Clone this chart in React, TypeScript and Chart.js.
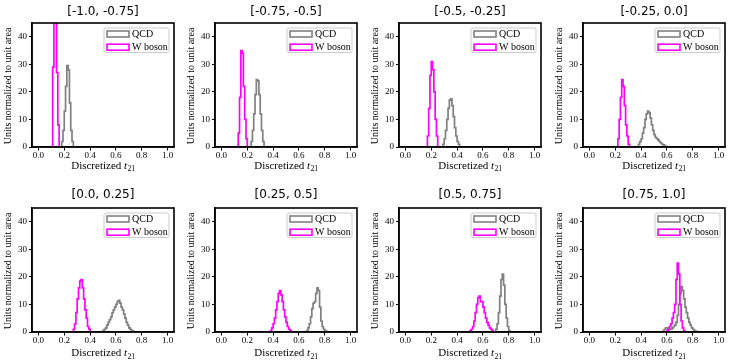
import React, { useEffect, useRef } from 'react';
import { Chart, registerables } from 'chart.js';

Chart.register(...registerables);

// ---------------- data ----------------
const panelTitles = [
  '[-1.0, -0.75]', '[-0.75, -0.5]', '[-0.5, -0.25]', '[-0.25, 0.0]',
  '[0.0, 0.25]', '[0.25, 0.5]', '[0.5, 0.75]', '[0.75, 1.0]',
];
const seriesNames = ['QCD', 'W boson'];
const xTicks = [0.0, 0.2, 0.4, 0.6, 0.8, 1.0];
const yTicks = [0, 10, 20, 30, 40];
const binWidth = 0.01;

// first bin edge of each histogram (per panel)
const qcdStarts = [0.18, 0.23, 0.29, 0.38, 0.50, 0.66, 0.70, 0.57];
const wStarts = [0.11, 0.13, 0.17, 0.22, 0.27, 0.38, 0.50, 0.60];

// bin heights (density)
const qcd1 = [2, 6, 13, 22, 29.5, 28, 16, 6, 2];
const qcd2 = [2, 6, 12, 19, 24.5, 24, 19, 12, 6, 2];
const qcd3 = [1, 3, 6, 10, 14, 17, 17.5, 15, 11, 7, 4, 2, 1];
const qcd4 = [1, 2, 3, 5, 7, 10, 12, 13, 12.5, 10.5, 8, 6, 4.5, 3.5, 3, 2.5, 2, 1.5, 1, 0.8, 0.5];
const qcd5 = [0.5, 1, 1.5, 2.5, 3.5, 4.5, 5.5, 7, 8, 9, 10, 11, 11.5, 10.5, 9, 8, 6.5, 5, 3.5, 2.5, 1.5, 1, 0.5, 0.3];
const qcd6 = [0.5, 1.5, 3, 5.5, 8.5, 10.5, 11, 14, 16, 15, 9, 4, 2, 1, 0.5, 0.2];
const qcd7 = [1, 3, 7, 13, 19, 21, 17, 10, 5, 2, 0.5];
const qcd8 = [0.5, 1, 1.5, 1.5, 1, 1, 1, 1.5, 2, 2.5, 3.5, 6, 10, 14, 16.5, 15, 12, 9, 7, 5, 3.5, 2.5, 1.5, 1, 0.5, 0.3];

const w1 = [29, 50, 50, 27, 8];
const w2 = [5, 18, 35, 34, 22, 10, 3];
const w3 = [4, 14, 26, 31, 28, 20, 10, 4];
const w4 = [3, 10, 18, 24.5, 22, 15, 8, 4, 1];
const w5 = [1, 3, 7, 12, 16, 18.5, 19, 16, 12, 8, 5, 2, 1];
const w6 = [0.5, 1.5, 3, 5, 8, 11, 14, 15, 13.5, 11, 8, 5.5, 3.5, 2, 1, 0.5];
const w7 = [0.5, 1, 2, 4, 7, 10, 12.5, 13, 11, 11, 9, 7, 5, 3.5, 2.5, 1.5, 1, 0.5];
const w8 = [0.5, 1, 2, 3, 5, 7, 10, 19, 25, 21, 10, 4, 1.5, 0.5];

const qcdCounts = [qcd1, qcd2, qcd3, qcd4, qcd5, qcd6, qcd7, qcd8];
const wCounts = [w1, w2, w3, w4, w5, w6, w7, w8];

// ---------------- styling / layout ----------------
const QCD_COLOR = '#808080';
const W_COLOR = '#ff00ff';
const PLOT_W = 142;
const PLOT_H = 124;
const AXIS_W = 32;
const TOP_PAD = 23;
const RIGHT_PAD = 6;
const CANVAS_W = AXIS_W + PLOT_W + RIGHT_PAD;
const colLefts = [32, 215, 399, 583];
const rowTops = [23, 208];
const rowHeights = [181, 178];
const titleOffsets = [11.5, 13];
const xlabelBaselines = [21.5, 24];
const SERIF = '"Liberation Serif", "Times New Roman", serif';

function histPoints(start: number, counts: number[]) {
  const pts = [{ x: start, y: 0 }];
  counts.forEach((c, i) => pts.push({ x: +(start + i * binWidth).toFixed(4), y: c }));
  pts.push({ x: +(start + counts.length * binWidth).toFixed(4), y: 0 });
  return pts;
}

function Panel({ idx }: { idx: number }) {
  const ref = useRef<HTMLCanvasElement>(null);
  const row = Math.floor(idx / 4);
  const col = idx % 4;
  const left = colLefts[col] - AXIS_W;
  const top = rowTops[row] - TOP_PAD;
  const height = rowHeights[row];

  useEffect(() => {
    const title = panelTitles[idx];
    const decor = {
      id: 'decor',
      afterDraw(chart: any) {
        const ctx = chart.ctx as CanvasRenderingContext2D;
        const a = chart.chartArea;
        const cx = (a.left + a.right) / 2;
        ctx.save();
        // frame
        ctx.strokeStyle = '#000';
        ctx.lineWidth = 1.6;
        ctx.strokeRect(a.left, a.top, a.right - a.left, a.bottom - a.top);
        // title
        ctx.fillStyle = '#000';
        ctx.font = '12px "DejaVu Sans"';
        ctx.textAlign = 'center';
        ctx.textBaseline = 'middle';
        ctx.fillText(title, cx, a.top - titleOffsets[row]);
        // y label
        ctx.save();
        ctx.translate(a.left - 23.5, (a.top + a.bottom) / 2 + 1);
        ctx.rotate(-Math.PI / 2);
        ctx.font = '10px ' + SERIF;
        ctx.fillText('Units normalized to unit area', 0, 0);
        ctx.restore();
        // x label: Discretized t_21
        const mainFont = '11px ' + SERIF;
        const itFont = 'italic 11px ' + SERIF;
        const subFont = '7.7px ' + SERIF;
        const p1 = 'Discretized ';
        const p2 = 't';
        const p3 = '21';
        ctx.font = mainFont; const w1m = ctx.measureText(p1).width;
        ctx.font = itFont; const w2m = ctx.measureText(p2).width;
        ctx.font = subFont; const w3m = ctx.measureText(p3).width;
        let x0 = cx - (w1m + w2m + w3m) / 2;
        const base = a.bottom + xlabelBaselines[row];
        ctx.textAlign = 'left';
        ctx.textBaseline = 'alphabetic';
        ctx.font = mainFont; ctx.fillText(p1, x0, base); x0 += w1m;
        ctx.font = itFont; ctx.fillText(p2, x0, base); x0 += w2m;
        ctx.font = subFont; ctx.fillText(p3, x0 + 0.3, base + 2.5);
        // legend
        const lw = 65, lh = 24.5;
        const lx = a.right - 5 - lw;
        const ly = a.top + 5;
        ctx.beginPath();
        (ctx as any).roundRect(lx, ly, lw, lh, 2);
        ctx.fillStyle = 'rgba(255,255,255,0.8)';
        ctx.fill();
        ctx.strokeStyle = '#cccccc';
        ctx.lineWidth = 1;
        ctx.stroke();
        const rows = [
          { name: seriesNames[0], color: QCD_COLOR, cy: ly + 6 },
          { name: seriesNames[1], color: W_COLOR, cy: ly + 19.2 },
        ];
        rows.forEach((r) => {
          ctx.strokeStyle = r.color;
          ctx.lineWidth = 1.6;
          ctx.strokeRect(lx + 3, r.cy - 3, 22, 6);
          ctx.fillStyle = '#000';
          ctx.font = '10px ' + SERIF;
          ctx.textAlign = 'left';
          ctx.textBaseline = 'middle';
          ctx.fillText(r.name, lx + 28, r.cy + 0.5);
        });
        ctx.restore();
      },
    };

    const chart = new Chart(ref.current as HTMLCanvasElement, {
      type: 'line',
      data: {
        datasets: [
          {
            label: seriesNames[1],
            data: histPoints(wStarts[idx], wCounts[idx]),
            borderColor: W_COLOR,
            borderWidth: 1.7,
            stepped: 'before',
            pointRadius: 0,
            fill: false,
            order: 0,
          },
          {
            label: seriesNames[0],
            data: histPoints(qcdStarts[idx], qcdCounts[idx]),
            borderColor: QCD_COLOR,
            borderWidth: 1.7,
            stepped: 'before',
            pointRadius: 0,
            fill: false,
            order: 1,
          },
        ],
      },
      options: {
        animation: false,
        responsive: false,
        events: [],
        layout: { padding: { left: 0, top: TOP_PAD, right: RIGHT_PAD, bottom: 0 } },
        plugins: { legend: { display: false }, tooltip: { enabled: false }, title: { display: false } },
        scales: {
          x: {
            type: 'linear',
            min: -0.05,
            max: 1.05,
            afterBuildTicks: (s: any) => { s.ticks = xTicks.map((v) => ({ value: v })); },
            afterFit: (s: any) => { s.height = height - TOP_PAD - PLOT_H; },
            ticks: {
              autoSkip: false,
              maxRotation: 0,
              padding: 0,
              color: '#000',
              font: { family: SERIF, size: 9 },
              callback: (v: any) => Number(v).toFixed(1),
            },
            grid: { drawOnChartArea: false, drawTicks: true, tickLength: 3.5, tickColor: '#000', tickWidth: 1 },
            border: { display: true, color: '#000', width: 1.5 },
          },
          y: {
            type: 'linear',
            min: 0,
            max: 45,
            afterBuildTicks: (s: any) => { s.ticks = yTicks.map((v) => ({ value: v })); },
            afterFit: (s: any) => { s.width = AXIS_W; },
            ticks: {
              autoSkip: false,
              padding: 2,
              color: '#000',
              font: { family: SERIF, size: 9 },
              callback: (v: any) => String(v),
            },
            grid: { drawOnChartArea: false, drawTicks: true, tickLength: 3, tickColor: '#000', tickWidth: 1 },
            border: { display: true, color: '#000', width: 1.5 },
          },
        },
      },
      plugins: [decor],
    } as any);
    return () => chart.destroy();
  }, []);

  return (
    <canvas
      ref={ref}
      width={CANVAS_W}
      height={height}
      style={{ position: 'absolute', left, top, width: CANVAS_W, height, display: 'block' }}
    />
  );
}

export default function App() {
  return (
    <div
      style={{
        position: 'fixed',
        left: 0,
        top: 0,
        width: 731,
        height: 363,
        overflow: 'hidden',
        background: '#fff',
      }}
    >
      {panelTitles.map((_, i) => (
        <Panel key={i} idx={i} />
      ))}
    </div>
  );
}
